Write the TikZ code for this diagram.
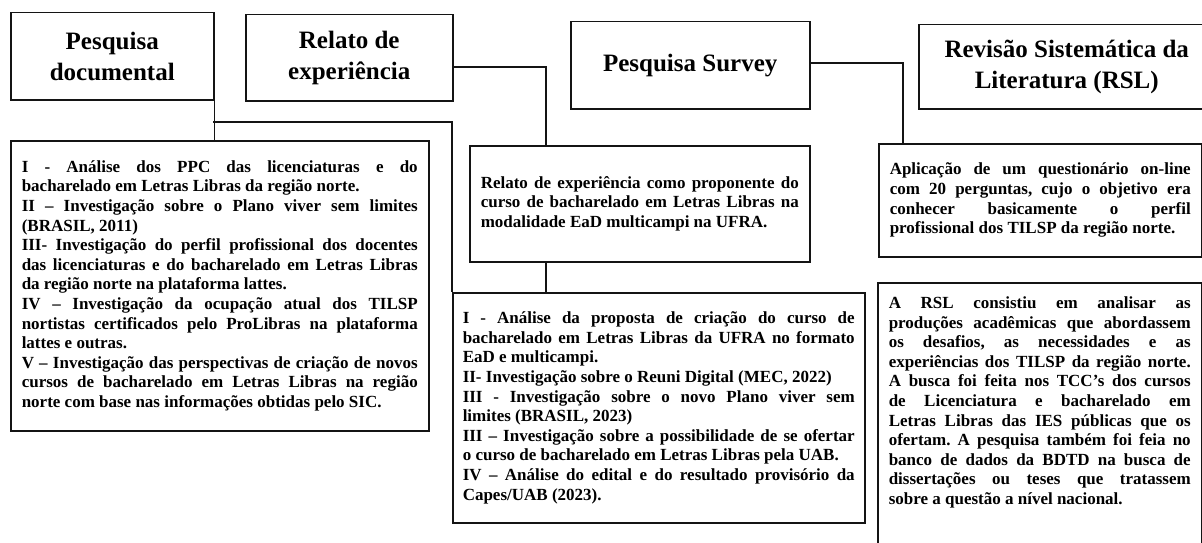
\documentclass[tikz,border=0pt]{standalone}
\usepackage{fontspec}
\setmainfont{Liberation Serif}
\usetikzlibrary{positioning, calc}
\hyphenpenalty=10000
\exhyphenpenalty=10000
\tolerance=10000
\hbadness=10000
\frenchspacing
\setlength{\parindent}{0pt}

\begin{document}
\begin{tikzpicture}[x=1pt, y=-1pt,
    titlebox/.style={draw=lineblack, line width=1.5pt, anchor=north west, align=center,
        inner sep=0pt, font=\fontsize{25}{31}\selectfont\bfseries},
    textbox/.style={draw=lineblack, line width=1.5pt, anchor=north west, align=justify,
        inner ysep=0pt, font=\fontsize{17}{19.6}\selectfont\bfseries},
    link/.style={lineblack, line width=1.5pt}
]

% Colores
\definecolor{lineblack}{RGB}{20, 20, 20}

% Marco de la figura
\useasboundingbox[fill=white] (0,0) rectangle (1202,543);
\clip (0,0) rectangle (1202,543);

% ============ Títulos ============
\node[titlebox, minimum width=203pt, minimum height=87pt] (doc) at (10,12) {Pesquisa\\documental};
\node[titlebox, minimum width=207pt, minimum height=86pt] (rel) at (245,14) {Relato de\\experiência};
\node[titlebox, minimum width=239pt, minimum height=87pt] (survey) at (570,21) {Pesquisa Survey};
\node[titlebox, minimum width=296pt, minimum height=84pt] (rsl) at (918,24) {Revisão Sistemática da\\Literatura (RSL)};

% ============ Cajas de texto ============
\node[textbox, text width=396pt, inner xsep=11pt, minimum height=290pt] (docitems) at (10,140) {%
    I - Análise dos PPC das licenciaturas e do\linebreak
    bacharelado em Letras Libras da região norte.\par
    II – Investigação sobre o Plano viver sem limites\linebreak
    (BRASIL, 2011)\par
    III- Investigação do perfil profissional dos docentes\linebreak
    das licenciaturas e do bacharelado em Letras Libras\linebreak
    da região norte na plataforma lattes.\par
    IV – Investigação da ocupação atual dos TILSP\linebreak
    nortistas certificados pelo ProLibras na plataforma\linebreak
    lattes e outras.\par
    V – Investigação das perspectivas de criação de novos\linebreak
    cursos de bacharelado em Letras Libras na região\linebreak
    norte com base nas informações obtidas pelo SIC.};

\node[textbox, text width=318pt, inner xsep=11pt, minimum height=116pt] (relitems) at (469,145) {%
    Relato de experiência como proponente do\linebreak
    curso de bacharelado em Letras Libras na\linebreak
    modalidade EaD multicampi na UFRA.};

\node[textbox, text width=392pt, inner xsep=10pt, minimum height=230pt] (propitems) at (452,292) {%
    I - Análise da proposta de criação do curso de\linebreak
    bacharelado em Letras Libras da UFRA no formato\linebreak
    EaD e multicampi.\par
    II- Investigação sobre o Reuni Digital (MEC, 2022)\par
    III - Investigação sobre o novo Plano viver sem\linebreak
    limites (BRASIL, 2023)\par
    III – Investigação sobre a possibilidade de se ofertar\linebreak
    o curso de bacharelado em Letras Libras pela UAB.\par
    IV – Análise do edital e do resultado provisório da\linebreak
    Capes/UAB (2023).};

\node[textbox, text width=301pt, inner xsep=11pt, minimum height=113pt] (survitems) at (878,143) {%
    Aplicação de um questionário on-line\linebreak
    com 20 perguntas, cujo o objetivo era\linebreak
    conhecer basicamente o perfil\linebreak
    profissional dos TILSP da região norte.};

% caja abierta por abajo (sigue fuera del marco)
\node[textbox, text width=302pt, inner xsep=11pt, inner ysep=14pt] (rslitems) at (877,282) {%
    A RSL consistiu em analisar as\linebreak
    produções acadêmicas que abordassem\linebreak
    os desafios, as necessidades e as\linebreak
    experiências dos TILSP da região norte.\linebreak
    A busca foi feita nos TCC’s dos cursos\linebreak
    de Licenciatura e bacharelado em\linebreak
    Letras Libras das IES públicas que os\linebreak
    ofertam. A pesquisa também foi feia no\linebreak
    banco de dados da BDTD na busca de\linebreak
    dissertações ou teses que tratassem\linebreak
    sobre a questão a nível nacional.\par
    \rule{0pt}{50pt}};

% ============ Conexiones ============
% Pesquisa documental
\coordinate (jdoc) at (213,122);
\draw[link] (doc.south east) -- (doc.south east |- docitems.north);
\draw[link] (jdoc) -| (propitems.north west);

% Relato de experiência
\coordinate (jrel) at (546,67);
\draw[link] (jrel -| rel.east) -- (jrel) -- (jrel |- relitems.north);
\draw[link] (jrel |- relitems.south) -- (jrel |- propitems.north);

% Pesquisa Survey
\coordinate (jsur) at (903,63);
\draw[link] (jsur -| survey.east) -- (jsur) -- (jsur |- survitems.north);

\end{tikzpicture}
\end{document}
